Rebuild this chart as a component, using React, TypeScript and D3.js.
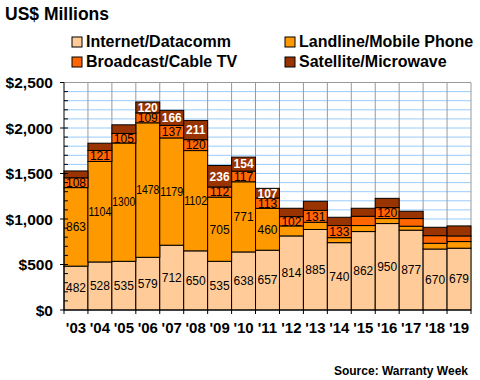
import React from "react";
import * as d3 from "d3";

const years = ["'03", "'04", "'05", "'06", "'07", "'08", "'09", "'10", "'11", "'12", "'13", "'14", "'15", "'16", "'17", "'18", "'19"];
const internet = [482, 528, 535, 579, 712, 650, 535, 638, 657, 814, 885, 740, 862, 950, 877, 670, 679];
const landline = [863, 1104, 1300, 1478, 1179, 1102, 705, 771, 460, 110, 79, 55, 66, 55, 44, 63, 73];
const broadcast = [108, 121, 105, 109, 137, 120, 112, 117, 113, 102, 131, 133, 102, 120, 84, 84, 62];
const satellite = [75, 80, 95, 120, 166, 211, 236, 154, 107, 92, 100, 91, 88, 102, 80, 92, 110];

const internetLabeled = years.map(() => true);
const landlineLabeled = years.map((_, i) => i < 9);
const broadcastLabeled = years.map((_, i) => i < 12 || i === 13);
const satelliteLabeled = years.map((_, i) => i >= 3 && i <= 8);

const seriesNames = ["Internet/Datacomm", "Landline/Mobile Phone", "Broadcast/Cable TV", "Satellite/Microwave"];
const seriesColors = ["#FFCC99", "#FF9900", "#FF6600", "#993300"];
const yTicks = [0, 500, 1000, 1500, 2000, 2500];

const FONT = "'Liberation Sans', Arial, sans-serif";

export default function App() {
  const W = 480, H = 380;
  const left = 64, right = 471, top = 82.5, bottom = 310;
  const x = d3.scaleBand<string>().domain(years).range([left, right]).padding(0);
  const y = d3.scaleLinear().domain([0, 2500]).range([bottom, top]);

  const rows = years.map((yr, i) => ({ yr, s0: internet[i], s1: landline[i], s2: broadcast[i], s3: satellite[i] }));
  const stack = d3.stack<any>().keys(["s0", "s1", "s2", "s3"]);
  const stacked = stack(rows);
  const labeled = [internetLabeled, landlineLabeled, broadcastLabeled, satelliteLabeled];
  const values = [internet, landline, broadcast, satellite];

  const minor = d3.range(100, 2500, 100);
  const bw = x.bandwidth();

  return (
    <svg width={W} height={H} style={{ position: "absolute", left: 0, top: 0 }} fontFamily={FONT}>
      <rect x={0} y={0} width={W} height={H} fill="#fff" />
      {/* gridlines */}
      {minor.map((v) => (
        <line key={"g" + v} x1={left} x2={right} y1={y(v)} y2={y(v)} stroke="#99CCFF" strokeWidth={1} />
      ))}
      {years.map((yr, i) => (
        <line key={"v" + i} x1={x(yr)! + bw} x2={x(yr)! + bw} y1={top} y2={bottom} stroke="#999" strokeWidth={1} />
      ))}
      <line x1={left} x2={right} y1={top} y2={top} stroke="#999" strokeWidth={1} />
      {/* bars */}
      {stacked.map((layer, si) => (
        <g key={"s" + si}>
          {layer.map((d, i) => (
            <rect
              key={i}
              x={x(years[i])!}
              y={y(d[1])}
              width={bw}
              height={y(d[0]) - y(d[1])}
              fill={seriesColors[si]}
              stroke="#000"
              strokeWidth={1}
            />
          ))}
        </g>
      ))}
      {/* labels */}
      {stacked.map((layer, si) => (
        <g key={"l" + si}>
          {layer.map((d, i) => {
            if (!labeled[si][i]) return null;
            const t = String(values[si][i]);
            const cx = x(years[i])! + bw / 2;
            const cy = (y(d[0]) + y(d[1])) / 2 + 4.3;
            const extra = t.length >= 4 ? { textLength: 23, lengthAdjust: "spacingAndGlyphs" } : {};
            return (
              <text
                key={i}
                x={cx}
                y={cy}
                textAnchor="middle"
                fontSize={12}
                fontWeight={si === 3 ? "bold" : "normal"}
                fill={si === 3 ? "#fff" : "#000"}
                {...(extra as any)}
              >
                {t}
              </text>
            );
          })}
        </g>
      ))}
      {/* axes */}
      <line x1={left} x2={left} y1={top} y2={bottom} stroke="#000" strokeWidth={1} />
      <line x1={left} x2={right} y1={bottom} y2={bottom} stroke="#000" strokeWidth={1} />
      {minor.map((v) => (
        <line key={"mt" + v} x1={left} x2={left + 4} y1={y(v)} y2={y(v)} stroke="#000" strokeWidth={1} />
      ))}
      {yTicks.map((v) => (
        <g key={"yt" + v}>
          <line x1={left - 4} x2={left} y1={y(v)} y2={y(v)} stroke="#000" strokeWidth={1} />
          <text x={53} y={y(v) + 5.5} textAnchor="end" fontSize={15.5} fontWeight="bold" fill="#000">
            {d3.format("$,")(v)}
          </text>
        </g>
      ))}
      {[left, ...years.map((yr) => x(yr)! + bw)].map((px, i) => (
        <line key={"xt" + i} x1={px} x2={px} y1={bottom} y2={bottom + 4} stroke="#000" strokeWidth={1} />
      ))}
      {years.map((yr) => (
        <text key={"xl" + yr} x={x(yr)! + bw / 2} y={333} textAnchor="middle" fontSize={15} fontWeight="bold" fill="#000">
          {yr}
        </text>
      ))}
      {/* title */}
      <text x={5} y={19.5} fontSize={17.5} fontWeight="bold" fill="#000">US$ Millions</text>
      {/* legend */}
      {seriesNames.map((name, i) => {
        const col = i % 2;
        const row = Math.floor(i / 2);
        const lx = col === 0 ? 72 : 285;
        const ly = row === 0 ? 47 : 67;
        return (
          <g key={"lg" + i}>
            <rect x={lx} y={ly - 10} width={10} height={10} fill={seriesColors[i]} stroke="#000" strokeWidth={1} />
            <text x={lx + 14} y={ly} fontSize={16} fontWeight="bold" fill="#000">{name}</text>
          </g>
        );
      })}
      <text x={468} y={375} textAnchor="end" fontSize={12} fontWeight="bold" fill="#000">Source: Warranty Week</text>
    </svg>
  );
}
